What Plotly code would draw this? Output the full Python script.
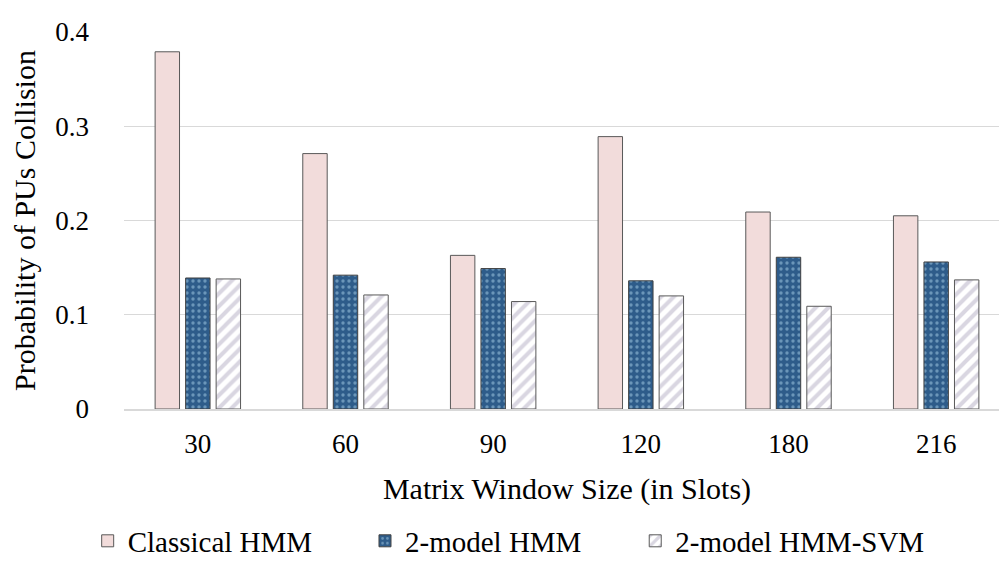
import plotly.graph_objects as go

categories = ["30", "60", "90", "120", "180", "216"]
classical_hmm = [0.379, 0.271, 0.163, 0.289, 0.209, 0.205]
two_model_hmm = [0.139, 0.142, 0.149, 0.136, 0.161, 0.156]
two_model_hmm_svm = [0.138, 0.121, 0.114, 0.120, 0.109, 0.137]
y_ticks = [0, 0.1, 0.2, 0.3, 0.4]
y_tick_labels = ["0", "0.1", "0.2", "0.3", "0.4"]

font = "Liberation Serif, Times New Roman, serif"

fig = go.Figure()
fig.add_trace(go.Bar(
    name="Classical HMM", x=categories, y=classical_hmm, legend="legend",
    marker=dict(color="#f2dcdb", line=dict(color="#595959", width=1)),
))
fig.add_trace(go.Bar(
    name="2-model HMM", x=categories, y=two_model_hmm, legend="legend2",
    marker=dict(color="#2e5c8a", line=dict(color="#404040", width=1),
                pattern=dict(shape=".", fgcolor="#a8d0e8", bgcolor="#2e5c8a", size=6, solidity=0.25)),
))
fig.add_trace(go.Bar(
    name="2-model HMM-SVM", x=categories, y=two_model_hmm_svm, legend="legend3",
    marker=dict(color="#ffffff", line=dict(color="#595959", width=1),
                pattern=dict(shape="/", fgcolor="#b4aec4", bgcolor="#ffffff", size=9, solidity=0.45)),
))

leg_common = dict(orientation="h", y=-0.35, yanchor="middle", xanchor="left",
                  font=dict(size=29, family=font), bgcolor="rgba(0,0,0,0)")

fig.update_layout(
    width=1007, height=564,
    margin=dict(l=116, r=5, t=24, b=154),
    paper_bgcolor="white", plot_bgcolor="white",
    barmode="group", bargap=0.38, bargroupgap=0.2,
    font=dict(family=font, color="#000000"),
    showlegend=True,
    legend=dict(x=-0.041, **leg_common),
    legend2=dict(x=0.272, **leg_common),
    legend3=dict(x=0.577, **leg_common),
    xaxis=dict(
        title=dict(text="Matrix Window Size (in Slots)", font=dict(size=30, family=font), standoff=20),
        tickfont=dict(size=27, family=font), showgrid=False, automargin=False,
        showline=True, linecolor="#d9d9d9", linewidth=1.5, ticks="", ticklabelstandoff=10,
    ),
    yaxis=dict(
        title=dict(text="Probability of PUs Collision", font=dict(size=30, family=font), standoff=10),
        tickfont=dict(size=27, family=font), range=[0, 0.4], automargin=False,
        tickvals=y_ticks, ticktext=y_tick_labels,
        showgrid=True, gridcolor="#d9d9d9", gridwidth=1.3, zeroline=False,
        showline=False, ticks="", ticklabelstandoff=34,
    ),
)

fig.write_html("out.html")
